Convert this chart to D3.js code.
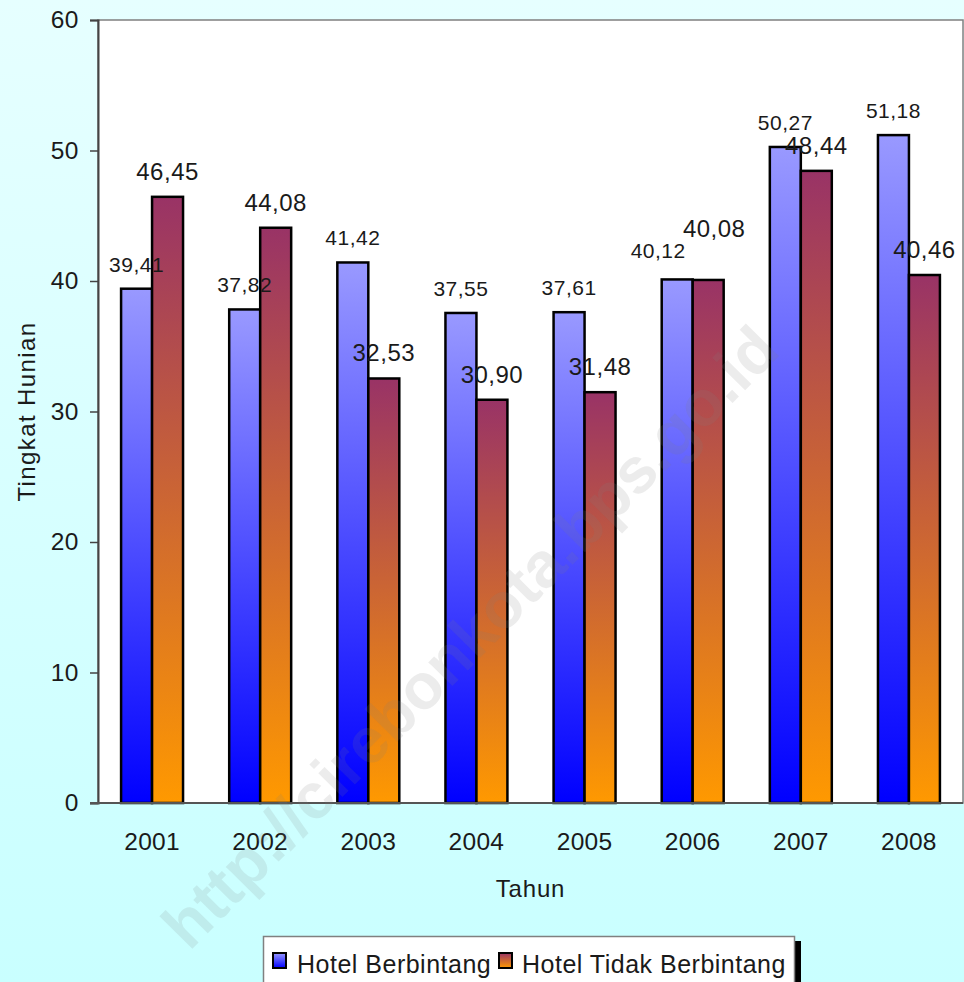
<!DOCTYPE html>
<html>
<head>
<meta charset="utf-8">
<script src="https://cdn.jsdelivr.net/npm/d3@7"></script>
<style>
  html, body { margin: 0; padding: 0; }
  svg { display: block; font-family: "Liberation Sans", Arial, sans-serif; }
</style>
</head>
<body>
<svg id="chart" width="964" height="982"></svg>
<script>
// Tingkat hunian hotel per tahun
const years = ["2001", "2002", "2003", "2004", "2005", "2006", "2007", "2008"];
const hotelBerbintang = [39.41, 37.82, 41.42, 37.55, 37.61, 40.12, 50.27, 51.18];
const hotelTidakBerbintang = [46.45, 44.08, 32.53, 30.90, 31.48, 40.08, 48.44, 40.46];
const seriesNames = ["Hotel Berbintang", "Hotel Tidak Berbintang"];
const yTicks = [0, 10, 20, 30, 40, 50, 60];

// hand-placed label nudges [dx, dy] where labels would collide
const nudgeBerbintang = [[0,0],[0,0],[0,0],[0,0],[0,0],[-19,-4],[0,0],[0,0]];
const nudgeTidak      = [[0,0],[0,0],[0,0],[0,0],[0,0],[6,-26],[0,0],[0,0]];

const W = 964, H = 982;
const plot = { left: 98, top: 20, right: 963, bottom: 803 };

const svg = d3.select("#chart");
const defs = svg.append("defs");

// page background
const bg = defs.append("linearGradient").attr("id", "bgGrad")
  .attr("x1", 0).attr("y1", 0).attr("x2", 0).attr("y2", 1);
bg.append("stop").attr("offset", "0%").attr("stop-color", "#e6ffff");
bg.append("stop").attr("offset", "100%").attr("stop-color", "#c9ffff");

// bar fills
const gradDefs = [
  { id: "gBlue", top: "#9999ff", bottom: "#0000ff" },
  { id: "gRed", top: "#993366", bottom: "#ff9900" }
];
gradDefs.forEach(g => {
  const lg = defs.append("linearGradient").attr("id", g.id)
    .attr("x1", 0).attr("y1", 0).attr("x2", 0).attr("y2", 1);
  lg.append("stop").attr("offset", "0%").attr("stop-color", g.top);
  lg.append("stop").attr("offset", "100%").attr("stop-color", g.bottom);
});

svg.append("rect").attr("width", W).attr("height", H).attr("fill", "url(#bgGrad)");

// plot area
svg.append("rect")
  .attr("x", plot.left).attr("y", plot.top)
  .attr("width", plot.right - plot.left).attr("height", plot.bottom - plot.top)
  .attr("fill", "#ffffff").attr("stroke", "#808080").attr("stroke-width", 1.5);

const x = d3.scaleBand().domain(years).range([plot.left, plot.right]).paddingInner(0).paddingOuter(0);
const xs = d3.scaleBand().domain(seriesNames).range([0, x.bandwidth()]).paddingInner(0).paddingOuter(0.745);
const y = d3.scaleLinear().domain([0, 60]).range([plot.bottom, plot.top]);

const series = [
  { name: seriesNames[0], values: hotelBerbintang, fill: "url(#gBlue)", nudge: nudgeBerbintang, fontSize: 21 },
  { name: seriesNames[1], values: hotelTidakBerbintang, fill: "url(#gRed)", nudge: nudgeTidak, fontSize: 24 }
];

const fmt = v => d3.format(".2f")(v).replace(".", ",");

// bars
series.forEach(s => {
  svg.append("g").selectAll("rect")
    .data(years.map((yr, i) => ({ yr, v: s.values[i] })))
    .join("rect")
    .attr("x", d => x(d.yr) + xs(s.name))
    .attr("y", d => y(d.v))
    .attr("width", xs.bandwidth())
    .attr("height", d => y(0) - y(d.v))
    .attr("fill", s.fill)
    .attr("stroke", "#000")
    .attr("stroke-width", 2.5);
});

// y axis
const yAxis = d3.axisLeft(y).tickValues(yTicks).tickSize(8).tickPadding(11).tickFormat(d3.format("d"));
const gy = svg.append("g").attr("transform", `translate(${plot.left},0)`).call(yAxis);
gy.select(".domain").attr("stroke", "#444").attr("stroke-width", 2);
gy.selectAll(".tick line").attr("stroke", "#444").attr("stroke-width", 1.5);
gy.selectAll(".tick text").attr("font-size", 24.5).attr("letter-spacing", 0.5).attr("fill", "#1a1a1a")
  .attr("font-family", "Liberation Sans, Arial, sans-serif");

// x axis
const xAxis = d3.axisBottom(x).tickSize(0).tickPadding(30);
const gx = svg.append("g").attr("transform", `translate(0,${plot.bottom})`).call(xAxis);
gx.select(".domain").remove();
gx.selectAll(".tick text").attr("font-size", 24.5).attr("letter-spacing", 0.3).attr("fill", "#1a1a1a")
  .attr("font-family", "Liberation Sans, Arial, sans-serif").attr("dy", "0.71em");
svg.append("line")
  .attr("x1", plot.left - 8).attr("x2", plot.right)
  .attr("y1", plot.bottom).attr("y2", plot.bottom)
  .attr("stroke", "#555").attr("stroke-width", 2);

// value labels
series.forEach(s => {
  svg.append("g").selectAll("text")
    .data(years.map((yr, i) => ({ yr, v: s.values[i], n: s.nudge[i] })))
    .join("text")
    .attr("x", d => x(d.yr) + xs(s.name) + xs.bandwidth() / 2 + d.n[0])
    .attr("y", d => y(d.v) - 17 + d.n[1])
    .attr("text-anchor", "middle")
    .attr("font-size", s.fontSize)
    .attr("letter-spacing", 0.5)
    .attr("fill", "#1a1a1a")
    .text(d => fmt(d.v));
});

// axis titles
svg.append("text")
  .attr("transform", `translate(35,${(plot.top + plot.bottom) / 2}) rotate(-90)`)
  .attr("text-anchor", "middle")
  .attr("font-size", 24).attr("letter-spacing", 1.4).attr("fill", "#1a1a1a")
  .text("Tingkat Hunian");

svg.append("text")
  .attr("x", (plot.left + plot.right) / 2).attr("y", 897)
  .attr("text-anchor", "middle")
  .attr("font-size", 24).attr("letter-spacing", 0.8).attr("fill", "#1a1a1a")
  .text("Tahun");

// legend
const lg = svg.append("g");
lg.append("rect").attr("x", 795).attr("y", 941).attr("width", 6).attr("height", 45).attr("fill", "#000");
lg.append("rect").attr("x", 263.5).attr("y", 936.5).attr("width", 531).attr("height", 50)
  .attr("fill", "#ffffff").attr("stroke", "#808080").attr("stroke-width", 1.5);
const legendItems = [
  { name: seriesNames[0], fill: "url(#gBlue)", sx: 273, tx: 297 },
  { name: seriesNames[1], fill: "url(#gRed)", sx: 499, tx: 522 }
];
legendItems.forEach(it => {
  lg.append("rect").attr("x", it.sx).attr("y", 953).attr("width", 13).attr("height", 15)
    .attr("fill", it.fill).attr("stroke", "#000").attr("stroke-width", 2);
  lg.append("text").attr("x", it.tx).attr("y", 973)
    .attr("font-size", 25).attr("letter-spacing", 0.5).attr("fill", "#1a1a1a")
    .text(it.name);
});

// site watermark
svg.append("text")
  .attr("transform", "translate(470,637) rotate(-45.3)")
  .attr("text-anchor", "middle").attr("dominant-baseline", "central")
  .attr("font-size", 64).attr("font-weight", "bold")
  .attr("fill", "#808080").attr("fill-opacity", 0.15)
  .text("http://cirebonkota.bps.go.id");
</script>
</body>
</html>
